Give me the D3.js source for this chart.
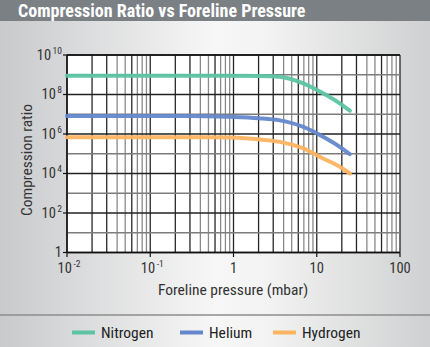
<!DOCTYPE html>
<html><head><meta charset="utf-8">
<script src="https://cdn.jsdelivr.net/npm/d3@7"></script>
<style>
html,body{margin:0;padding:0;}
svg{display:block;}
text{font-family:"Liberation Sans Narrow","Roboto Condensed","DejaVu Sans Condensed","Arial Narrow",sans-serif;}
</style></head>
<body>
<svg id="chart" width="430" height="347"></svg>
<script>
const title = "Compression Ratio vs Foreline Pressure";
const xTitle = "Foreline pressure (mbar)";
const yTitle = "Compression ratio";
const seriesNames = ["Nitrogen", "Helium", "Hydrogen"];
const seriesColors = ["#5cc4a2", "#6487cb", "#fdb461"];
// pressures (mbar)
const pressure = [0.01, 0.1, 0.5, 0.9, 2, 3.6, 6.9, 11.9, 18.9, 25];
// log10 of compression ratio
const nitrogenLog = [8.95, 8.95, 8.95, 8.95, 8.94, 8.90, 8.56, 8.06, 7.55, 7.18];
const heliumLog   = [6.91, 6.91, 6.90, 6.87, 6.80, 6.69, 6.36, 5.86, 5.35, 4.98];
const hydrogenLog = [5.84, 5.84, 5.84, 5.82, 5.73, 5.60, 5.27, 4.76, 4.34, 4.00];
const xTickExps = [-2, -1, 0, 1, 2];
const xTickLabels = [["10","-2"],["10","-1"],["1",""],["10",""],["100",""]];
const yTickExps = [0, 2, 4, 6, 8, 10];
const yTickLabels = [["1",""],["10","2"],["10","4"],["10","6"],["10","8"],["10","10"]];

const svg = d3.select("#chart");
const W = 430, H = 347;
const defs = svg.append("defs");
const g1 = defs.append("linearGradient").attr("id","bg").attr("x1","0").attr("x2","1").attr("y1","0").attr("y2","0");
g1.append("stop").attr("offset","0").attr("stop-color","#c9cacc");
g1.append("stop").attr("offset","0.5").attr("stop-color","#f7f7f7");
g1.append("stop").attr("offset","0.62").attr("stop-color","#f3f3f3");
g1.append("stop").attr("offset","1").attr("stop-color","#cfd0d1");
svg.append("rect").attr("width",W).attr("height",H).attr("fill","url(#bg)");
svg.append("rect").attr("width",W).attr("height",21).attr("fill","#7b8085");
svg.append("text").attr("x",18).attr("y",16.5).attr("fill","#fff").attr("font-size",18).attr("font-weight","bold").text(title);

const x = d3.scaleLog().domain([0.01, 100]).range([67, 400]);
const y = d3.scaleLog().domain([1, 1e10]).range([252.5, 55]);

svg.append("rect").attr("x",67).attr("y",55).attr("width",333).attr("height",197.5).attr("fill","#fff");

// vertical grid
const darkMinor = new Set([1,2,3,6]);
const grid = svg.append("g");
const xt = x.ticks(40);
xt.forEach(v => {
  const m = Math.round(v / Math.pow(10, Math.floor(Math.log10(v) + 1e-9)));
  const dark = darkMinor.has(m);
  grid.append("line").attr("x1",x(v)).attr("x2",x(v)).attr("y1",55).attr("y2",252.5)
    .attr("stroke", dark ? "#262626" : "#8a8a8a").attr("stroke-width",1.3);
});
// horizontal grid
d3.range(0, 11).forEach(e => {
  grid.append("line").attr("x1",67).attr("x2",400).attr("y1",y(Math.pow(10,e))).attr("y2",y(Math.pow(10,e)))
    .attr("stroke", e % 2 === 0 ? "#222" : "#7d7d7d").attr("stroke-width",1.3);
});
// axes lines
svg.append("line").attr("x1",67).attr("x2",67).attr("y1",55).attr("y2",252.5).attr("stroke","#111").attr("stroke-width",1.4);
svg.append("line").attr("x1",67).attr("x2",400).attr("y1",252.5).attr("y2",252.5).attr("stroke","#111").attr("stroke-width",1.4);
svg.append("line").attr("x1",67).attr("x2",400).attr("y1",55).attr("y2",55).attr("stroke","#111").attr("stroke-width",1.4);
// ticks
yTickExps.forEach(e => {
  svg.append("line").attr("x1",63).attr("x2",67).attr("y1",y(Math.pow(10,e))).attr("y2",y(Math.pow(10,e))).attr("stroke","#111").attr("stroke-width",1.2);
});
xTickExps.forEach(e => {
  svg.append("line").attr("x1",x(Math.pow(10,e))).attr("x2",x(Math.pow(10,e))).attr("y1",252.5).attr("y2",257).attr("stroke","#111").attr("stroke-width",1.2);
});

// y tick labels
yTickExps.forEach((e,i) => {
  const [b, s] = yTickLabels[i];
  const t = svg.append("text").attr("x", 62).attr("y", y(Math.pow(10,e)) + 4.5).attr("text-anchor","end")
    .attr("fill","#333").attr("font-size",14.5);
  if (s) {
    t.append("tspan").text(b);
    t.append("tspan").attr("font-size",9.5).attr("dy",-6).attr("dx",1.5).text(s);
  } else t.text(b);
});
// x tick labels
xTickExps.forEach((e,i) => {
  const [b, s] = xTickLabels[i];
  const t = svg.append("text").attr("x", x(Math.pow(10,e)) + (s ? 2 : 0)).attr("y", 273).attr("text-anchor","middle")
    .attr("fill","#333").attr("font-size",14.5);
  if (s) {
    t.append("tspan").text(b);
    t.append("tspan").attr("font-size",9.5).attr("dy",-6).attr("dx",1.5).text(s);
  } else t.text(b);
});

svg.append("text").attr("x",233).attr("y",295).attr("text-anchor","middle").attr("fill","#333").attr("font-size",15.5).text(xTitle);
svg.append("text").attr("transform","translate(32,160) rotate(-90)").attr("text-anchor","middle").attr("fill","#333").attr("font-size",15.5).text(yTitle);

// curves
const seriesLogs = [nitrogenLog, heliumLog, hydrogenLog];
const line = d3.line().x(d => x(d[0])).y(d => y(Math.pow(10, d[1]))).curve(d3.curveMonotoneX);
seriesLogs.forEach((vals, i) => {
  svg.append("path").datum(pressure.map((p, j) => [p, vals[j]]))
    .attr("d", line).attr("fill","none").attr("stroke", seriesColors[i]).attr("stroke-width",4)
    .attr("stroke-linecap","round").attr("opacity",0.95);
});

// separator
svg.append("line").attr("x1",0).attr("x2",W).attr("y1",315).attr("y2",315).attr("stroke","#8c8c8c").attr("stroke-width",1.5);
// legend
const legX = [72, 180, 273];
seriesNames.forEach((n, i) => {
  svg.append("line").attr("x1",legX[i]).attr("x2",legX[i]+23).attr("y1",332.5).attr("y2",332.5)
    .attr("stroke",seriesColors[i]).attr("stroke-width",4);
  svg.append("text").attr("x",legX[i]+29).attr("y",338).attr("fill","#222").attr("font-size",15.5).text(n);
});
</script>
</body></html>
